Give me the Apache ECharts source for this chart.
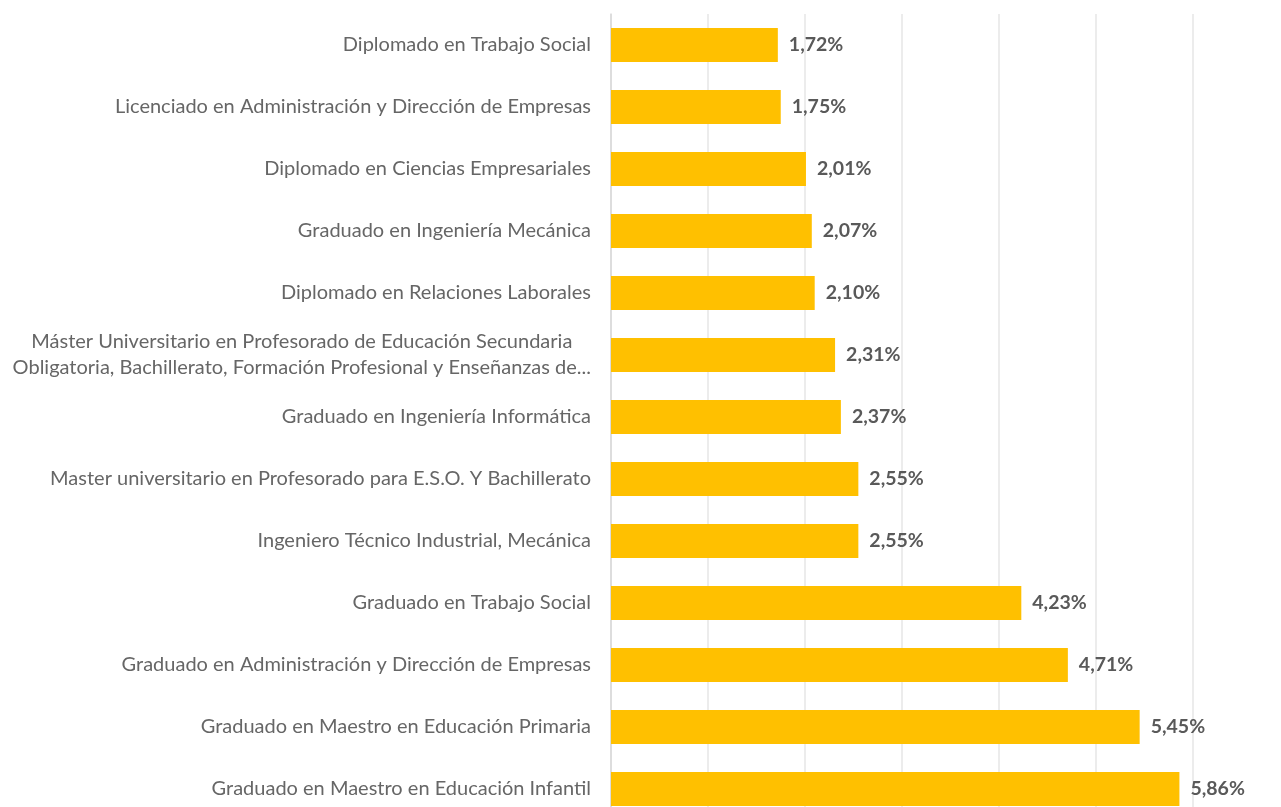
<!DOCTYPE html>
<html>
<head>
<meta charset="utf-8">
<script src="https://cdn.jsdelivr.net/npm/echarts@6/dist/echarts.min.js"></script>
<style>
html, body { margin: 0; padding: 0; background: #fff; }
#app { width: 1281px; height: 807px; }
</style>
</head>
<body>
<div id="app"></div>
<script>
// titulaciones, de arriba abajo
var categories = [
    'Diplomado en Trabajo Social',
    'Licenciado en Administración y Dirección de Empresas',
    'Diplomado en Ciencias Empresariales',
    'Graduado en Ingeniería Mecánica',
    'Diplomado en Relaciones Laborales',
    'Máster Universitario en Profesorado de Educación Secundaria\nObligatoria, Bachillerato, Formación Profesional y Enseñanzas de...',
    'Graduado en Ingeniería Informática',
    'Master universitario en Profesorado para E.S.O. Y Bachillerato',
    'Ingeniero Técnico Industrial, Mecánica',
    'Graduado en Trabajo Social',
    'Graduado en Administración y Dirección de Empresas',
    'Graduado en Maestro en Educación Primaria',
    'Graduado en Maestro en Educación Infantil'
];
// porcentajes
var values = [1.72, 1.75, 2.01, 2.07, 2.10, 2.31, 2.37, 2.55, 2.55, 4.23, 4.71, 5.45, 5.86];

var myEchart = echarts.init(document.getElementById('app'));
myEchart.setOption({
    animation: false,
    grid: {
        left: 611,
        top: 14,
        width: 679,
        height: 806,
        outerBoundsMode: 'none',
        containLabel: false
    },
    xAxis: {
        type: 'value',
        min: 0,
        max: 7,
        interval: 1,
        axisLabel: { show: false },
        axisLine: { show: false },
        axisTick: { show: false },
        splitLine: { lineStyle: { color: '#e6e6e6', width: 1.5 } }
    },
    yAxis: {
        type: 'category',
        inverse: true,
        data: categories,
        axisTick: { show: false },
        axisLine: { show: true, lineStyle: { color: '#d9d9d9', width: 1.5 } },
        axisLabel: {
            margin: 20,
            color: '#666666',
            fontFamily: 'Lato',
            fontSize: 20,
            lineHeight: 26,
            formatter: function (v) {
                return v.split('\n').map(function (s) { return '{c|' + s + '}'; }).join('\n');
            },
            rich: {
                c: { align: 'center', color: '#666666', fontFamily: 'Lato', fontSize: 20, lineHeight: 26 }
            }
        }
    },
    series: [{
        type: 'bar',
        data: values,
        barWidth: 34,
        itemStyle: { color: '#FFC000' },
        label: {
            show: true,
            position: 'right',
            distance: 11,
            color: '#595959',
            fontFamily: 'Lato',
            fontWeight: 'bold',
            fontSize: 19.5,
            formatter: function (p) {
                return p.value.toFixed(2).replace('.', ',') + '%';
            }
        }
    }]
});
</script>
</body>
</html>
